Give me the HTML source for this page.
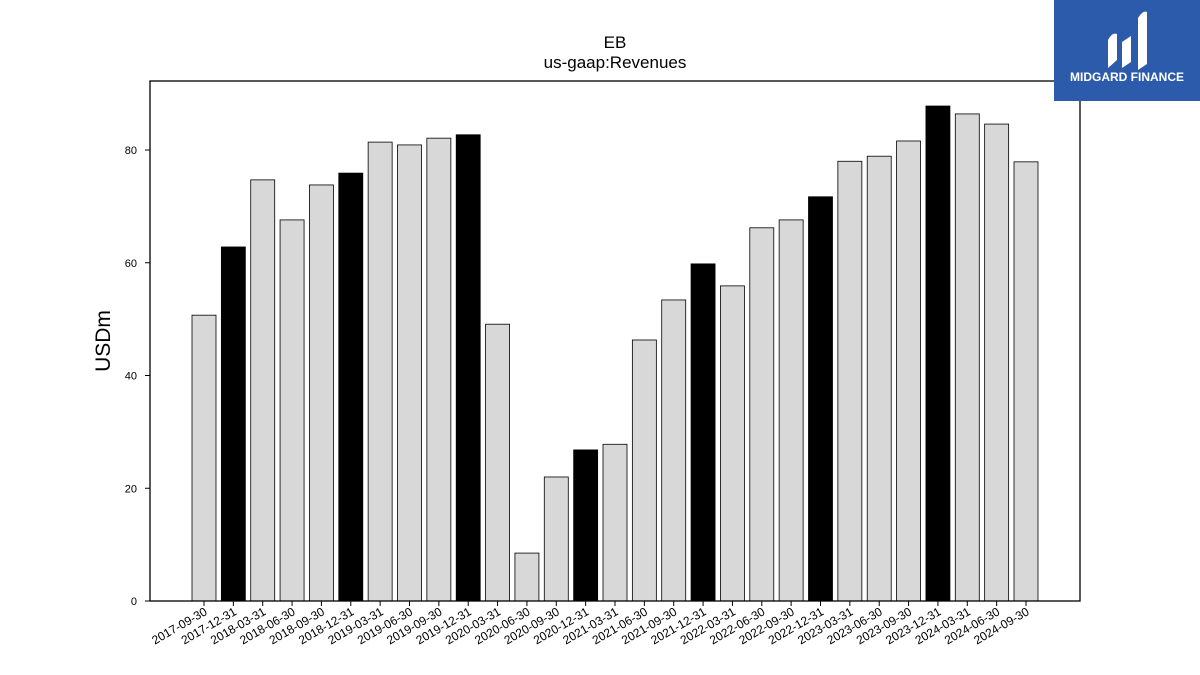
<!DOCTYPE html>
<html><head><meta charset="utf-8"><style>
html,body{margin:0;padding:0;background:#fff;width:1200px;height:675px;overflow:hidden;font-family:"Liberation Sans","DejaVu Sans",sans-serif}
</style></head><body>
<svg id="chart" width="1200" height="675" xmlns="http://www.w3.org/2000/svg">
<text x="615" y="48" text-anchor="middle" font-size="17">EB</text>
<text x="615" y="68" text-anchor="middle" font-size="17">us-gaap:Revenues</text>
<text transform="translate(110,341) rotate(-90)" text-anchor="middle" font-size="21">USDm</text>
<g id="bars"></g><g id="xt"></g><g id="yt"></g>
<rect x="150" y="81" width="930" height="520" fill="none" stroke="#000" stroke-width="1.3"/>
<g>
<rect x="1054" y="0" width="146" height="101" fill="#2c5bab"/>
<path d="M1108 68 L1108 40 Q1112 32 1117 34 L1117 60 Z M1122 68 L1122 42 L1131 36 L1131 62 Z M1138 70 L1138 18 Q1143 10 1147 12 L1147 64 Z" fill="#fff"/>
<text x="1127" y="81" text-anchor="middle" font-size="12" font-weight="bold" fill="#fff">MIDGARD FINANCE</text>
</g>
</svg>
<script>
const categories=["2017-09-30","2017-12-31","2018-03-31","2018-06-30","2018-09-30","2018-12-31","2019-03-31","2019-06-30","2019-09-30","2019-12-31","2020-03-31","2020-06-30","2020-09-30","2020-12-31","2021-03-31","2021-06-30","2021-09-30","2021-12-31","2022-03-31","2022-06-30","2022-09-30","2022-12-31","2023-03-31","2023-06-30","2023-09-30","2023-12-31","2024-03-31","2024-06-30","2024-09-30"];
const values=[50.7,62.8,74.7,67.6,73.8,75.9,81.4,80.9,82.1,82.7,49.1,8.5,22.0,26.8,27.8,46.3,53.4,59.8,55.9,66.2,67.6,71.7,78.0,78.9,81.6,87.8,86.4,84.6,77.9];
const yTicks=[0,20,40,60,80];
const NS="http://www.w3.org/2000/svg";
const y=v=>601-v*(451/80);
const x=i=>204+i*(822/28);
const bw=24;
const bars=document.getElementById('bars'),xt=document.getElementById('xt'),yt=document.getElementById('yt');
categories.forEach((c,i)=>{
 const r=document.createElementNS(NS,'rect');
 
 
 r.setAttribute('x',x(i)-bw/2);r.setAttribute('y',y(values[i]));
 r.setAttribute('width',bw);r.setAttribute('height',y(0)-y(values[i]));
 r.setAttribute('fill',c.endsWith('12-31')?'#000':'#d8d8d8');
 r.setAttribute('stroke','#000');r.setAttribute('stroke-width','0.8');
 bars.appendChild(r);
 const l=document.createElementNS(NS,'line');
 
 
 l.setAttribute('x1',x(i));l.setAttribute('x2',x(i));l.setAttribute('y1',601);l.setAttribute('y2',606);l.setAttribute('stroke','#000');
 xt.appendChild(l);
 const t=document.createElementNS(NS,'text');
 
 
 t.setAttribute('transform','translate('+(x(i)+4)+',614) rotate(-30)');
 t.setAttribute('text-anchor','end');t.setAttribute('font-size','12');
 t.textContent=c;xt.appendChild(t);
});
yTicks.forEach(v=>{
 const l=document.createElementNS(NS,'line');
 
 
 l.setAttribute('x1',145);l.setAttribute('x2',150);l.setAttribute('y1',y(v));l.setAttribute('y2',y(v));l.setAttribute('stroke','#000');
 yt.appendChild(l);
 const t=document.createElementNS(NS,'text');
 
 
 t.setAttribute('x',137);t.setAttribute('y',y(v)+4);t.setAttribute('text-anchor','end');t.setAttribute('font-size','11');
 t.textContent=v;yt.appendChild(t);
});
</script>
</body></html>
